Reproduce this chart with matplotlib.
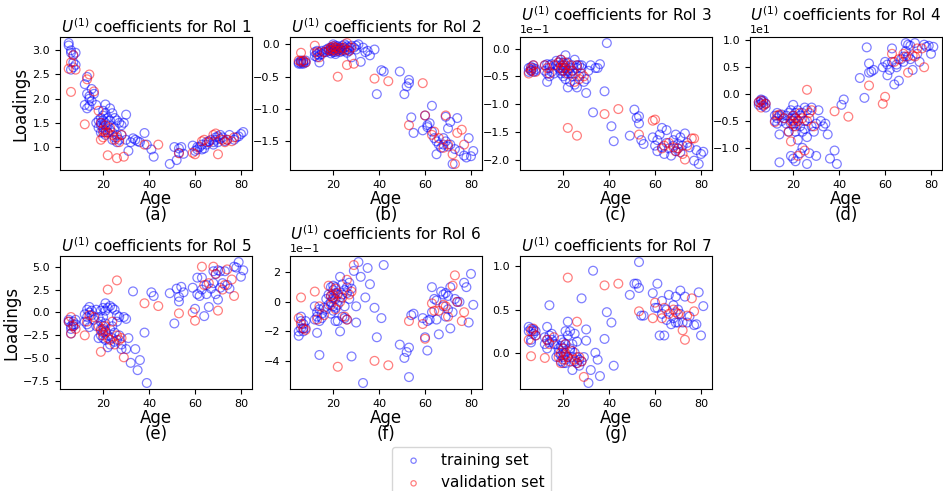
import numpy as np
import matplotlib
matplotlib.use('Agg')
import matplotlib.pyplot as plt
from matplotlib.ticker import MaxNLocator

# ages of the subjects (same subjects for every RoI)
train_age = [5, 5, 6, 6, 6, 7, 7, 7, 8, 8,
             12, 12, 13, 13, 13, 14, 14, 14, 15, 15, 16,
             17, 17, 18, 18, 19, 19, 19, 19, 20, 20, 20, 20, 20, 21, 21, 21, 21, 21, 22,
             22, 22, 23, 23, 23, 24, 24, 24, 25, 25, 25, 26, 26, 26, 27, 27, 28, 28, 29, 30, 30,
             31, 32, 33, 34, 35, 36, 38, 39, 41, 42,
             49, 51, 52, 53, 53, 54, 55,
             59, 60, 61, 61, 62, 63, 63, 64, 65, 65, 66, 67, 68, 68, 69, 69, 70, 70, 71, 71,
             72, 73, 74, 75, 77, 78, 79, 80, 81]
val_age = [5, 6, 6, 7, 8, 12, 13, 14, 16,
           18, 19, 19, 20, 20, 21, 21, 22, 22, 23, 24, 25, 26, 26, 27, 28, 29,
           38, 44, 53,
           59, 60, 63, 64, 66, 68, 69, 70, 72, 73, 74, 76, 77]

# loadings (in the units shown, see units below)
train_roi1 = [3.15, 3.1, 3.0, 2.95, 2.6, 2.9, 2.75, 2.65, 2.7, 2.95,
              2.3, 1.87, 2.45, 2.1, 1.8, 2.0, 1.85, 2.05, 2.2, 1.95, 2.1,
              1.87, 1.5, 1.55, 1.4, 1.45, 1.6, 1.3, 1.5, 1.75, 1.55, 1.4, 1.3, 1.65, 1.88, 1.7, 1.5, 1.35, 1.25,
              1.6, 1.45, 1.3, 1.8, 1.55, 1.35, 1.7, 1.3, 1.15, 1.6, 1.4, 1.2, 1.55, 1.25, 1.1, 1.5, 1.15,
              1.45, 1.25, 1.5, 1.67, 1.15,
              0.92, 1.1, 1.18, 1.15, 1.12, 1.1, 1.29, 1.05, 0.95, 0.8,
              0.65, 1.0, 0.73, 0.97, 0.88, 1.0, 0.86,
              1.03, 0.92, 1.0, 0.95, 1.0, 0.95, 1.05, 0.97, 1.1, 1.05, 1.12, 1.15, 1.1, 1.05, 1.2, 1.15,
              1.22, 1.1, 1.25, 1.17, 1.2, 1.12, 1.15, 1.25, 1.15, 1.2, 1.22, 1.27, 1.31]
train_roi2 = [-0.3, -0.28, -0.27, -0.3, -0.25, -0.28, -0.26, -0.3, -0.25, -0.28,
              -0.12, -0.18, -0.15, -0.1, -0.2, -0.12, -0.28, -0.17, -0.1, -0.15, -0.12,
              -0.12, -0.08, -0.1, -0.06, -0.05, -0.1, -0.14, -0.08, -0.03, -0.06, -0.1, -0.12, 0.0,
              -0.02, -0.05, -0.08, -0.12, -0.15, -0.03, -0.07, -0.1, -0.05, -0.08, -0.12, -0.02, -0.06,
              -0.1, 0.0, -0.05, -0.1, -0.03, -0.08, -0.13, -0.05, -0.1, -0.02, -0.2, -0.05, -0.02, -0.08,
              0.0, -0.27, -0.05, -0.12, -0.1, -0.17, -0.08, -0.77, -0.4, -0.42,
              -0.42, -0.77, -0.65, -0.6, -0.55, -1.13, -1.37,
              -1.33, -1.1, -1.25, -1.28, -1.22, -0.95, -1.35, -1.45, -1.5, -1.7, -1.55, -1.6, -1.45, -1.55,
              -1.12, -1.5, -1.58, -1.3, -1.2, -1.55, -1.85, -1.62, -1.14, -1.65, -1.72, -1.75, -1.45, -1.73, -1.65]
train_roi3 = [-0.35, -0.42, -0.4, -0.33, -0.38, -0.3, -0.42, -0.35, -0.4, -0.37,
              -0.3, -0.4, -0.6, -0.28, -0.45, -0.35, -0.5, -0.3, -0.42, -0.28, -0.45,
              -0.3, -0.22, -0.35, -0.25, -0.4, -0.3, -0.2, -0.45, -0.35, -0.25,
              -0.5, -0.3, -0.4, -0.12, -0.3, -0.55, -0.45, -0.35, -0.7, -0.25,
              -0.4, -0.6, -0.35, -0.45, -0.3, -0.5, -0.4, -0.65, -0.2, -0.45,
              -0.7, -0.35, -0.3, -0.3, -0.5, -0.35, -0.3, -0.6, -0.8, -0.55,
              -0.4, -0.3, -1.15, -0.35, -0.35, -0.28, -0.77, 0.1, -1.4, -1.67,
              -1.57, -1.1, -1.25, -1.35, -1.22, -1.65, -1.72,
              -1.6, -1.75, -1.85, -1.65, -1.55, -1.78, -1.43, -1.9, -1.47, -1.7,
              -1.8, -1.93, -1.65, -1.75, -1.55, -1.85, -1.8, -1.72, -1.6, -1.87,
              -1.75, -1.53, -1.7, -1.78, -2.02, -1.83, -2.08, -1.9, -1.86]
train_roi4 = [-0.15, -0.2, -0.12, -0.18, -0.1, -0.15, -0.22, -0.12, -0.25, -0.18,
              -0.4, -0.5, -0.35, -0.45, -0.55, -0.75, -1.27, -0.4, -0.5, -0.38, -0.45,
              -0.4, -0.55, -0.35, -0.7, -0.45, -0.3, -1.15, -0.55, -0.4, -0.5,
              -0.6, -0.2, -1.2, -0.35, -0.45, -1.25, -0.55, -0.7, -0.3, -0.5,
              -0.85, -0.4, -0.6, -1.1, -0.35, -0.7, -1.0, -0.25, -0.5, -0.65,
              -0.3, -0.8, -1.3, -0.45, -1.1, -0.6, -0.25, -0.7, -1.15, -0.55,
              -0.3, -0.5, -0.6, -0.55, -0.75, -1.2, -1.05, -1.3, -0.2, -0.1,
              0.3, -0.07, 0.87, 0.57, 0.4, 0.42, 0.45,
              0.5, 0.6, 0.35, 0.55, 0.45, 0.85, 0.6, 0.18, 0.55, 0.5,
              0.25, 0.65, 0.7, 0.6, 0.95, 0.8, 0.7, 0.92, 0.65, 0.9,
              0.45, 0.95, 0.75, 0.6, 0.92, 0.88, 0.9, 0.75, 0.88]
train_roi5 = [-1.0, -0.8, -2.3, -1.5, -1.8, -1.0, -1.3, -1.5, -0.8, -1.3,
              -0.2, -1.0, 0.3, -0.5, -1.3, 0.6, -1.6, 0.0, -0.3, 0.2, -0.8,
              -1.5, 0.3, -2.8, -0.5, -1.8, 0.2, -2.5, -1.0, -2.2, 0.5,
              -1.5, -2.8, -0.5, 1.0, -2.0, -3.0, 0.2, -1.2, -3.8, -2.5,
              0.5, -1.8, 0.7, -3.5, -2.8, 0.5, -1.5, -3.2, 0.3, -2.2,
              -0.3, -3.0, -1.0, -2.5, -0.5, -4.0, -3.5, -0.5, -4.0, -0.7,
              -2.8, -5.5, 2.3, -4.0, -6.3, -5.2, -2.2, -7.7, 2.2, 1.8,
              2.1, -1.2, 2.6, 1.7, 1.2, 2.8, 2.2,
              2.7, 0.4, 3.8, 2.0, 1.8, 3.8, 2.5, -0.4, 3.0, 2.0,
              0.6, 2.6, 4.5, 3.2, 4.2, 2.0, 4.6, 1.4, 4.5, 2.7,
              3.2, 4.5, 3.0, 2.6, 5.0, 4.9, 5.5, 3.9, 4.6]
train_roi6 = [-2.0, -2.3, -1.3, -1.0, -1.8, -1.5, -1.8, -2.0, -1.3, -1.8,
              -1.2, -0.3, -2.1, -0.7, -1.0, -3.6, -0.5, -1.3, -0.8, -1.1, -0.4,
              0.2, -0.5, 0.5, -0.2, 1.0, 0.0, -0.8, 0.4, 0.8, -0.3,
              0.3, -0.6, 1.1, 0.6, 0.2, -0.4, 1.0, -1.3, -1.3, 0.5,
              -0.2, 1.7, -2.0, 0.3, -1.0, 1.2, 0.5, -1.1, 0.8, -0.3,
              0.6, 1.0, -1.2, 1.3, 0.2, -3.7, 0.9, 2.1, -0.3, -1.4,
              2.7, 1.7, -5.5, 0.3, 2.3, 1.2, -0.4, -2.4, -1.1, 2.5,
              -2.9, -3.8, -3.4, -3.1, -5.1, -0.9, -0.8,
              -1.1, -2.4, -1.3, -3.3, -1.2, 1.0, -0.7, 0.2, -1.2, 0.1,
              -2.2, 0.7, -0.3, 0.5, -1.0, 0.6, 0.4, -0.5, 1.0, -1.8,
              -0.7, 0.2, 0.0, 0.0, 1.3, 1.0, -1.4, 1.9, -0.2]
train_roi7 = [0.3, 0.25, 0.28, 0.15, 0.12, 0.25, 0.22, 0.27, 0.25, 0.2,
              0.1, 0.18, 0.3, 0.05, 0.15, 0.55, 0.12, 0.2, 0.15, 0.22, 0.1,
              0.1, -0.05, 0.05, 0.0, -0.1, 0.15, -0.03, 0.08, -0.12, 0.0,
              0.12, -0.05, 0.05, -0.08, 0.25, 0.0, -0.12, 0.1, 0.2, 0.36,
              -0.05, 0.03, 0.05, 0.25, -0.2, -0.05, 0.1, -0.1, 0.22, 0.0,
              -0.05, 0.13, -0.12, -0.08, -0.15, 0.63, -0.1, -0.05, 0.27, 0.14,
              -0.35, -0.2, 0.95, 0.0, -0.08, -0.27, 0.16, 0.47, 0.35, -0.15,
              0.67, 0.8, 0.8, 1.05, 0.75, 0.43, 0.43,
              0.69, 0.52, 0.8, 0.52, 0.2, 0.6, 0.45, 0.2, 0.38, 0.5,
              0.67, 0.33, 0.4, 0.55, 0.65, 0.35, 0.5, 0.35, 0.72, 0.45,
              0.35, 0.65, 0.35, 0.42, 0.32, 0.33, 0.7, 0.2, 0.54]

val_roi1 = [2.62, 2.14, 2.75, 2.9, 2.6, 1.47, 2.4, 2.5, 2.15,
            1.75, 1.15, 1.5, 1.35, 1.2, 1.45, 1.3, 0.83, 1.3, 1.4, 1.25, 1.15, 0.77, 1.2, 1.1, 1.25, 0.8,
            1.05, 1.05, 0.87,
            0.88, 0.85, 1.12, 1.15, 1.1, 1.25, 1.28, 0.85, 1.15, 1.1, 1.15, 1.12, 1.2]
val_roi2 = [-0.25, -0.13, -0.27, -0.25, -0.28, -0.02, -0.12, -0.2, -0.12,
            -0.08, -0.05, -0.1, -0.03, -0.08, -0.05, -0.1, -0.5, -0.06, -0.1, -0.05, -0.08, -0.32, 0.02,
            -0.1, -0.05, -0.3,
            -0.53, -0.57, -1.25,
            -0.6, -1.1, -1.4, -1.35, -1.45, -1.6, -1.1, -1.55, -1.7, -1.85, -1.37, -1.32, -1.55]
val_roi3 = [-0.45, -0.4, -0.35, -0.3, -0.42, -0.3, -0.35, -0.45, -0.3,
            -0.25, -0.35, -0.2, -0.3, -0.4, -0.35, -0.25, -1.43, -0.45, -0.3, -0.4, -0.6, -1.57, -0.3,
            -0.55, -0.45, -0.5,
            -1.18, -1.09, -1.55,
            -1.3, -1.28, -1.8, -1.75, -1.7, -1.78, -1.85, -1.8, -1.9, -2.0, -1.75, -1.62, -1.62]
val_roi4 = [-0.15, -0.25, -0.12, -0.2, -0.18, -0.52, -0.4, -0.38, -0.45,
            -0.7, -0.88, -0.5, -0.4, -0.55, -0.6, -0.45, -1.15, -0.5, -0.35, -0.45, -1.05, 0.08, -0.5,
            -0.35, -0.3, -0.6,
            -0.32, -0.42, 0.16,
            -0.18, -0.05, 0.75, 0.6, 0.65, 0.75, 0.7, 0.4, 0.72, 0.7, 0.85, 0.85, 0.5]
val_roi5 = [-1.0, -0.5, -2.3, -1.5, -1.8, -2.5, -1.0, -0.3, -0.5,
            -1.5, -4.3, -2.0, -1.8, -2.5, -2.2, -1.5, 2.5, -2.8, -3.0, -1.0, -3.5, 3.5, -2.5,
            -3.0, -2.8, -4.9,
            1.0, 0.7, -0.1,
            0.0, -0.9, 5.0, 3.0, 3.2, 5.0, 4.2, 0.2, 2.5, 3.0, 4.7, 3.6, 1.8]
val_roi6 = [-1.1, 0.3, -1.5, -1.8, -1.9, 0.7, -1.2, -0.3, -0.9,
            1.1, 0.4, -0.2, 0.5, 0.2, 0.9, -0.5, -4.4, 0.6, 0.0, 0.3, -1.0, 1.5, -1.2,
            0.5, 0.7, 2.5,
            -4.0, -4.3, -1.3,
            -1.5, -2.5, -0.1, -0.6, -0.6, -0.2, -0.3, -1.0, 1.1, 1.8, 0.0, -1.3, -0.7]
val_roi7 = [0.15, -0.04, 0.25, 0.28, 0.2, -0.06, 0.15, 0.1, 0.18,
            -0.05, 0.0, -0.12, 0.05, -0.08, -0.02, 0.1, 0.87, -0.05, -0.1, 0.02, -0.08, 0.36, -0.12,
            -0.05, -0.1, -0.28,
            0.78, 0.8, 0.48,
            0.4, 0.58, 0.4, 0.52, 0.45, 0.5, 0.47, 0.45, 0.26, 0.15, 0.43, 0.63, 0.48]

train_vals = [train_roi1, train_roi2, train_roi3, train_roi4, train_roi5, train_roi6, train_roi7]
val_vals = [val_roi1, val_roi2, val_roi3, val_roi4, val_roi5, val_roi6, val_roi7]
# unit of the numbers above (panels c, d, f show an offset factor)
units = [1, 1, 1e-1, 1e1, 1, 1e-1, 1]
letters = ['a', 'b', 'c', 'd', 'e', 'f', 'g']
nbins = [6, 6, 6, 6, 6, 6, 4]

fig, axes = plt.subplots(2, 4, figsize=(9.43, 4.91), dpi=100)
fig.subplots_adjust(left=0.0636, right=0.999, top=0.9246, bottom=0.2077,
                    wspace=0.198, hspace=0.647)

for i in range(7):
    ax = axes[i // 4, i % 4]
    ax.scatter(train_age, np.array(train_vals[i]) * units[i], s=40,
               facecolors='none', edgecolors='b', linewidths=0.9, alpha=0.5,
               label='training set')
    ax.scatter(val_age, np.array(val_vals[i]) * units[i], s=40,
               facecolors='none', edgecolors='r', linewidths=0.9, alpha=0.5,
               label='validation set')
    ax.set_title(r'$U^{(1)}$ coefficients for RoI %d' % (i + 1), fontsize=11, pad=3)
    ax.set_xlabel('Age\n(%s)' % letters[i], fontsize=12, linespacing=0.88, labelpad=0)
    ax.yaxis.set_major_locator(MaxNLocator(nbins[i], steps=[1, 2, 2.5, 5, 10]))
    ax.ticklabel_format(axis='y', style='sci', scilimits=(0, 0))
    ax.tick_params(labelsize=8)
    ax.yaxis.get_offset_text().set_fontsize(8)
    ax.set_xticks([20, 40, 60, 80])
    if i % 4 == 0:
        ax.set_ylabel('Loadings', fontsize=12, labelpad=2)

axes[1, 3].axis('off')

handles, labels = axes[0, 0].get_legend_handles_labels()
fig.legend(handles, labels, loc='upper center', bbox_to_anchor=(0.5, 0.106),
           fontsize=11, markerscale=0.6)

fig.savefig('out.png', dpi=100)
